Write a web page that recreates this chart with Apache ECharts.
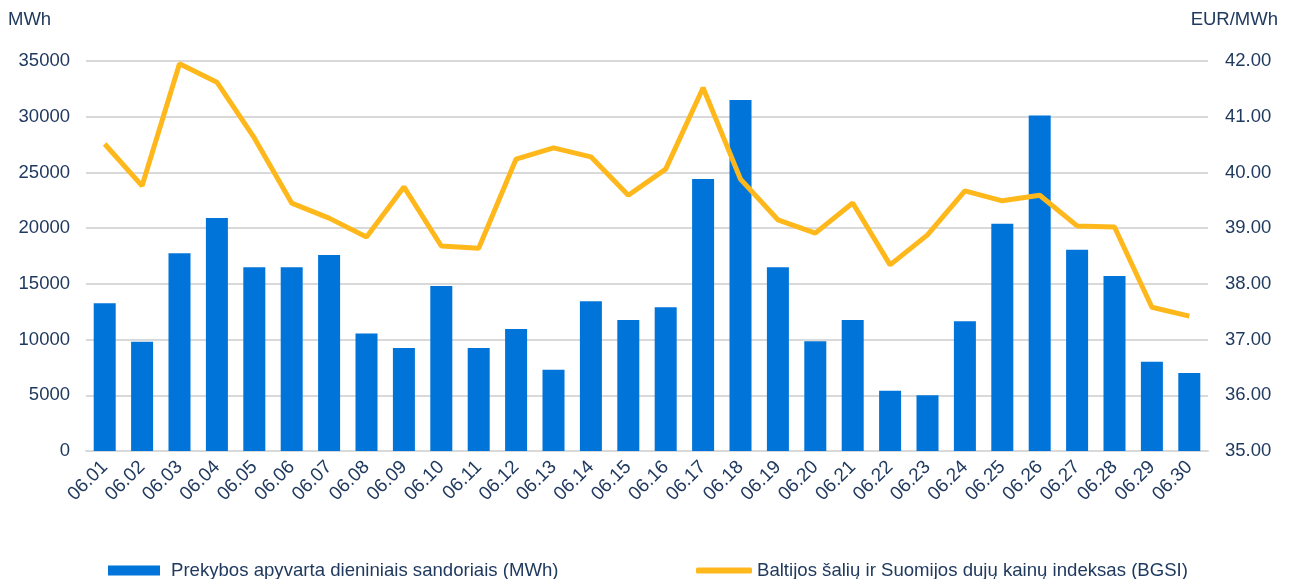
<!DOCTYPE html>
<html>
<head>
<meta charset="utf-8">
<script src="https://cdn.jsdelivr.net/npm/echarts@6/dist/echarts.min.js"></script>
<style>
  html, body { margin: 0; padding: 0; background: #fff; }
  #chart { width: 1293px; height: 579px; }
</style>
</head>
<body>
<div id="chart"></div>
<script>
var days = ["06.01", "06.02", "06.03", "06.04", "06.05", "06.06", "06.07", "06.08", "06.09", "06.10",
  "06.11", "06.12", "06.13", "06.14", "06.15", "06.16", "06.17", "06.18", "06.19", "06.20",
  "06.21", "06.22", "06.23", "06.24", "06.25", "06.26", "06.27", "06.28", "06.29", "06.30"];

// prekybos apyvarta, MWh
var volume = [13250, 9800, 17750, 20900, 16500, 16500, 17600, 10550, 9250, 14800,
  9250, 10950, 7300, 13450, 11750, 12900, 24400, 31500, 16500, 9850,
  11750, 5400, 5000, 11650, 20400, 30100, 18050, 15700, 8000, 7000];

// BGSI, EUR/MWh
var bgsi = [40.51, 39.76, 41.95, 41.62, 40.62, 39.45, 39.18, 38.84, 39.74, 38.68,
  38.64, 40.24, 40.44, 40.28, 39.59, 40.06, 41.52, 39.88, 39.15, 38.91,
  39.45, 38.34, 38.88, 39.67, 39.49, 39.59, 39.04, 39.02, 37.58, 37.42];

var barName = "Prekybos apyvarta dieniniais sandoriais (MWh)";
var lineName = "Baltijos šalių ir Suomijos dujų kainų indeksas (BGSI)";

var txt = "#203a5f";
var font = "Liberation Sans";

var chart = echarts.init(document.getElementById("chart"));
chart.setOption({
  animation: false,
  textStyle: { fontFamily: font, color: txt },
  grid: { left: 86, right: 85, top: 61, bottom: 128 },
  graphic: [
    { type: "text", left: 8, top: 10, style: { text: "MWh", font: "18.5px " + font, fill: txt } },
    { type: "text", right: 15, top: 10, style: { text: "EUR/MWh", font: "18.5px " + font, fill: txt } }
  ],
  legend: [
    {
      data: [barName],
      left: 103,
      top: 556,
      itemWidth: 52,
      itemHeight: 10,
      icon: "rect",
      textStyle: { fontSize: 18.6, color: txt, padding: [0, 0, 0, 6] }
    },
    {
      data: [lineName],
      left: 691,
      top: 556,
      itemWidth: 56,
      itemHeight: 6,
      icon: "roundRect",
      textStyle: { fontSize: 18.6, color: txt }
    }
  ],
  xAxis: {
    type: "category",
    data: days,
    axisLine: { lineStyle: { color: "#d9d9d9", width: 2 } },
    axisTick: { show: false },
    axisLabel: { rotate: 45, interval: 0, fontSize: 19, color: txt, margin: 13 }
  },
  yAxis: [
    {
      type: "value",
      min: 0,
      max: 35000,
      interval: 5000,
      axisLabel: { fontSize: 18.5, color: txt, margin: 16, formatter: function (v) { return String(v); } },
      splitLine: { lineStyle: { color: "#d9d9d9", width: 2 } }
    },
    {
      type: "value",
      min: 35,
      max: 42,
      interval: 1,
      position: "right",
      axisLabel: { fontSize: 18.5, color: txt, margin: 17, formatter: function (v) { return v.toFixed(2); } },
      splitLine: { show: false }
    }
  ],
  series: [
    {
      name: barName,
      type: "bar",
      data: volume,
      barWidth: 22,
      itemStyle: { color: "#0074d9" }
    },
    {
      name: lineName,
      type: "line",
      yAxisIndex: 1,
      data: bgsi,
      symbol: "none",
      lineStyle: { color: "#ffb81c", width: 5 },
      itemStyle: { color: "#ffb81c" }
    }
  ]
});
</script>
</body>
</html>
